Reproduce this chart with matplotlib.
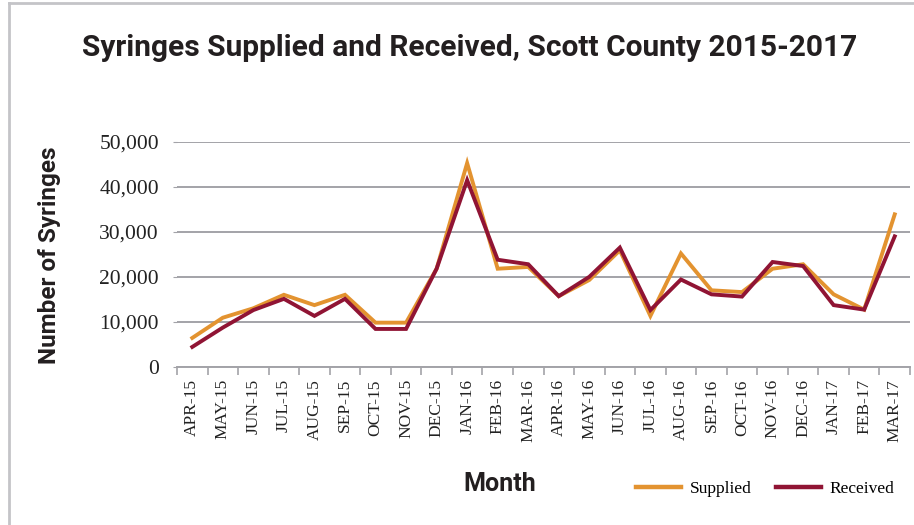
import matplotlib
matplotlib.use("Agg")
import matplotlib.pyplot as plt
from matplotlib.ticker import FuncFormatter, FixedLocator
from matplotlib.lines import Line2D

months = ["APR-15", "MAY-15", "JUN-15", "JUL-15", "AUG-15", "SEP-15", "OCT-15", "NOV-15",
          "DEC-15", "JAN-16", "FEB-16", "MAR-16", "APR-16", "MAY-16", "JUN-16", "JUL-16",
          "AUG-16", "SEP-16", "OCT-16", "NOV-16", "DEC-16", "JAN-17", "FEB-17", "MAR-17"]
supplied = [6400, 10900, 13000, 16000, 13700, 16000, 9800, 9800,
            21800, 45300, 21800, 22200, 15700, 19300, 25900, 11300,
            25200, 17000, 16600, 21800, 22800, 16100, 12700, 33900]
received = [4400, 8700, 12600, 15100, 11300, 15100, 8400, 8400,
            21800, 41500, 23800, 22800, 15700, 20000, 26500, 12600,
            19400, 16100, 15600, 23300, 22400, 13700, 12700, 29000]
yticks = [0, 10000, 20000, 30000, 40000, 50000]

SUP_C = "#E39330"
REC_C = "#901434"
GRID_C = "#A3A3A8"
SANS = ["Roboto", "DejaVu Sans"]
SERIF = ["Liberation Serif", "DejaVu Serif"]

fig = plt.figure(figsize=(9.14, 5.25), dpi=100)
W, H = 914, 525
ax = fig.add_axes([177 / W, 1 - 366.7 / H, (910 - 177) / W, (366.7 - 142) / H])

x = list(range(len(months)))
ax.plot(x, supplied, color=SUP_C, lw=2.8, solid_joinstyle="miter", zorder=3)
ax.plot(x, received, color=REC_C, lw=2.8, solid_joinstyle="miter", zorder=4)

ax.set_xlim(-0.5, len(months) - 0.5)
ax.set_ylim(0, 50000)
ax.set_yticks(yticks)
ax.yaxis.set_major_formatter(FuncFormatter(lambda v, p: f"{int(v):,}"))
ax.grid(axis="y", color=GRID_C, lw=1.4, zorder=1)
ax.set_axisbelow(True)

ax.set_xticks(x)
ax.set_xticklabels(months, rotation=90, fontfamily=SERIF, fontsize=12.5, color="#222222")
ax.xaxis.set_minor_locator(FixedLocator([i - 0.5 for i in range(len(months) + 1)]))
ax.tick_params(axis="x", which="major", length=0, pad=9)
ax.tick_params(axis="x", which="minor", length=6, width=1.2, color=GRID_C)
ax.tick_params(axis="y", length=3, width=0.8, color=GRID_C, pad=10)
for lbl in ax.get_yticklabels():
    lbl.set_fontfamily(SERIF)
    lbl.set_fontsize(15.5)
    lbl.set_color("#222222")

for s in ["top", "right", "left"]:
    ax.spines[s].set_visible(False)
ax.spines["bottom"].set_color(GRID_C)
ax.spines["bottom"].set_linewidth(1.4)

fig.text(470 / W, 1 - 48 / H, "Syringes Supplied and Received, Scott County 2015-2017",
         ha="center", va="center", fontsize=21.5, fontweight="bold", family=SANS, color="#231F20")
fig.text(50 / W, 1 - 255 / H, "Number of Syringes", rotation=90, ha="center", va="center",
         fontsize=17.5, fontweight="bold", family=SANS, color="#231F20")
fig.text(500 / W, 1 - 484 / H, "Month", ha="center", va="center",
         fontsize=18, fontweight="bold", family=SANS, color="#231F20")

handles = [Line2D([], [], color=SUP_C, lw=3.2), Line2D([], [], color=REC_C, lw=3.2)]
fig.legend(handles, ["Supplied", "Received"], loc="center", bbox_to_anchor=(765 / W, 1 - 489 / H),
           ncol=2, frameon=False, prop={"family": SERIF, "size": 12.5}, handlelength=2.6,
           columnspacing=1.4, handletextpad=0.5)

# outer border (top and left)
fig.add_artist(Line2D([8.5 / W, 8.5 / W], [0, 1 - 3 / H], color="#C4C4C8", lw=2, transform=fig.transFigure))
fig.add_artist(Line2D([8.5 / W, 1], [1 - 3 / H, 1 - 3 / H], color="#C4C4C8", lw=2, transform=fig.transFigure))

fig.savefig("out.png", dpi=100, facecolor="white")
